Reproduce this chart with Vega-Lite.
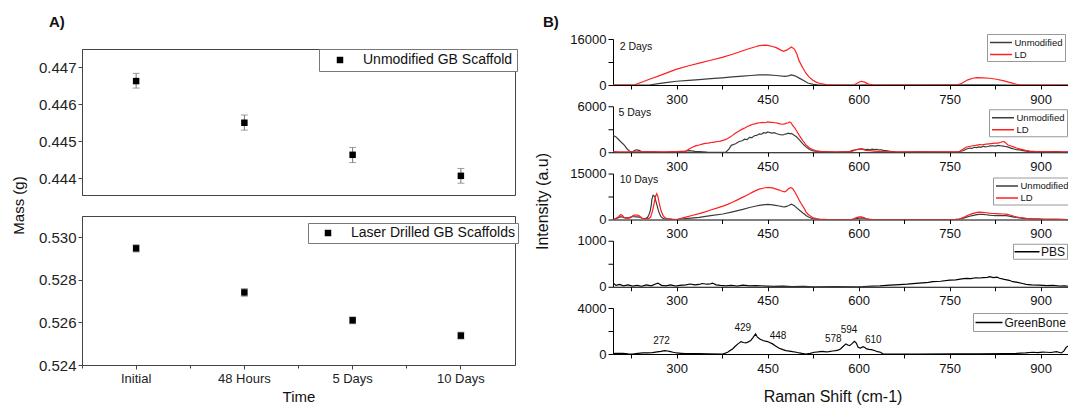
{
"$schema": "https://vega.github.io/schema/vega-lite/v6.json",
"background": "white",
"padding": {"left": 10, "top": 14, "right": 0, "bottom": 0},
"config": {
  "font": "Liberation Sans",
  "view": {"stroke": null},
  "axis": {"labelFont": "Liberation Sans", "titleFont": "Liberation Sans", "titleFontWeight": "normal", "grid": false, "labelColor": "#111", "titleColor": "#111", "domainColor": "#111", "tickColor": "#111", "labelOverlap": false, "labelFlush": false},
  "legend": {"labelFont": "Liberation Sans", "titleFont": "Liberation Sans", "labelLimit": 0},
  "title": {"font": "Liberation Sans", "fontWeight": "bold", "fontSize": 15, "color": "#111", "anchor": "start", "frame": "group"},
  "text": {"font": "Liberation Sans"}
},
"columns": 2,
"align": "none",
"spacing": 15,
"resolve": {"scale": {"color": "independent", "x": "independent", "y": "independent"}},
"concat": [
{
  "title": {"text": "A)", "offset": 7, "frame": "bounds", "dx": 38},
  "bounds": "flush",
  "spacing": 9,
  "resolve": {"scale": {"color": "independent", "x": "independent", "y": "independent"}},
  "vconcat": [
  {
    "width": 433, "height": 1,
    "data": {"values": [{"Spacer": 1}]},
    "mark": {"type": "point", "opacity": 0},
    "encoding": {}
  },
  {
  "spacing": 21,
  "bounds": "flush",
  "resolve": {"scale": {"color": "independent", "x": "independent", "y": "independent"}},
  "vconcat": [
  {
    "width": 433, "height": 146,
    "view": {"stroke": "#444", "strokeWidth": 1},
    "data": {"values": [
      {"Time": "Initial", "Mass": 0.44663, "Low": 0.44644, "High": 0.44684, "Sample": "Unmodified GB Scaffold"},
      {"Time": "48 Hours", "Mass": 0.44550, "Low": 0.44530, "High": 0.44571, "Sample": "Unmodified GB Scaffold"},
      {"Time": "5 Days", "Mass": 0.44463, "Low": 0.44442, "High": 0.44483, "Sample": "Unmodified GB Scaffold"},
      {"Time": "10 Days", "Mass": 0.44406, "Low": 0.44386, "High": 0.44426, "Sample": "Unmodified GB Scaffold"}
    ]},
    "encoding": {
      "x": {"field": "Time", "type": "nominal", "sort": ["Initial", "48 Hours", "5 Days", "10 Days"], "scale": {"type": "band", "paddingInner": 0, "paddingOuter": 0}, "axis": null}
    },
    "layer": [
      {"mark": {"type": "rule", "color": "#777", "strokeWidth": 1},
       "encoding": {
         "y": {"field": "Low", "type": "quantitative", "title": "Mass (g)", "scale": {"domain": [0.44354, 0.4475], "nice": false, "zero": false},
               "axis": {"values": [0.444, 0.4445, 0.445, 0.4455, 0.446, 0.4465, 0.447],
                        "labelExpr": "abs(datum.value*1000-round(datum.value*1000))<0.01 ? format(datum.value,'.3f') : ''",
                        "tickSize": {"condition": {"test": "abs(datum.value*1000-round(datum.value*1000))<0.01", "value": 4}, "value": 2.5},
                        "labelFontSize": 15, "labelPadding": 2, "titleFontSize": 15, "titlePadding": 12, "titleY": 156,
                        "domainColor": "#444", "tickColor": "#444", "labelColor": "#222"}},
         "y2": {"field": "High"}}},
      {"mark": {"type": "tick", "color": "#777", "size": 7, "thickness": 1},
       "encoding": {"y": {"field": "Low", "type": "quantitative", "title": "Mass (g)"}}},
      {"mark": {"type": "tick", "color": "#777", "size": 7, "thickness": 1},
       "encoding": {"y": {"field": "High", "type": "quantitative", "title": "Mass (g)"}}},
      {"mark": {"type": "square", "size": 42, "opacity": 1},
       "encoding": {
         "y": {"field": "Mass", "type": "quantitative", "title": "Mass (g)"},
         "color": {"field": "Sample", "type": "nominal", "scale": {"range": ["#000000"]},
                   "legend": {"orient": "none", "legendX": 237, "legendY": 0, "title": null, "strokeColor": "#777", "fillColor": "#fff", "padding": 4, "labelFontSize": 14, "labelColor": "#111", "symbolType": "square", "symbolSize": 42, "symbolOffset": 10, "labelOffset": 16}}}}
    ]
  },
  {
    "width": 433, "height": 149,
    "view": {"stroke": "#444", "strokeWidth": 1},
    "data": {"values": [
      {"Time": "Initial", "Mass": 0.52948, "Low": 0.52931, "High": 0.52965, "Sample": "Laser Drilled GB Scaffolds"},
      {"Time": "48 Hours", "Mass": 0.52741, "Low": 0.52723, "High": 0.52759, "Sample": "Laser Drilled GB Scaffolds"},
      {"Time": "5 Days", "Mass": 0.52610, "Low": 0.52594, "High": 0.52626, "Sample": "Laser Drilled GB Scaffolds"},
      {"Time": "10 Days", "Mass": 0.52538, "Low": 0.52522, "High": 0.52554, "Sample": "Laser Drilled GB Scaffolds"}
    ]},
    "resolve": {"axis": {"x": "independent"}},
    "layer": [
      {"mark": {"type": "rule", "color": "#777", "strokeWidth": 1},
       "encoding": {
         "x": {"field": "Time", "type": "nominal", "sort": ["Initial", "48 Hours", "5 Days", "10 Days"], "scale": {"type": "band", "paddingInner": 0, "paddingOuter": 0},
               "axis": {"orient": "bottom", "bandPosition": 0.5, "labelAngle": 0, "labelFontSize": 13, "labelPadding": 3, "tickSize": 4, "title": "Time", "titleFontSize": 15, "titlePadding": 4, "domainColor": "#444", "tickColor": "#444", "labelColor": "#222"}},
         "y": {"field": "Low", "type": "quantitative", "title": null, "scale": {"domain": [0.524, 0.531], "nice": false, "zero": false},
               "axis": {"values": [0.524, 0.525, 0.526, 0.527, 0.528, 0.529, 0.530],
                        "labelExpr": "abs(datum.value*500-round(datum.value*500))<0.01 ? format(datum.value,'.3f') : ''",
                        "tickSize": {"condition": {"test": "abs(datum.value*500-round(datum.value*500))<0.01", "value": 4}, "value": 2.5},
                        "labelFontSize": 15, "labelPadding": 2, "title": null,
                        "domainColor": "#444", "tickColor": "#444", "labelColor": "#222"}},
         "y2": {"field": "High"}}},
      {"mark": {"type": "tick", "color": "#777", "size": 7, "thickness": 1},
       "encoding": {
         "x": {"field": "Time", "type": "nominal", "sort": ["Initial", "48 Hours", "5 Days", "10 Days"], "axis": null},
         "y": {"field": "Low", "type": "quantitative", "title": null}}},
      {"mark": {"type": "tick", "color": "#777", "size": 7, "thickness": 1},
       "encoding": {
         "x": {"field": "Time", "type": "nominal", "sort": ["Initial", "48 Hours", "5 Days", "10 Days"], "axis": null},
         "y": {"field": "High", "type": "quantitative", "title": null}}},
      {"mark": {"type": "square", "size": 42, "opacity": 1},
       "encoding": {
         "x": {"field": "Time", "type": "nominal", "sort": ["Initial", "48 Hours", "5 Days", "10 Days"],
               "axis": {"orient": "bottom", "bandPosition": 0, "labels": false, "domain": false, "title": null, "tickSize": 3, "tickColor": "#444"}},
         "y": {"field": "Mass", "type": "quantitative", "title": null},
         "color": {"field": "Sample", "type": "nominal", "scale": {"range": ["#000000"]},
                   "legend": {"orient": "none", "legendX": 226, "legendY": 7, "title": null, "strokeColor": "#777", "fillColor": "#fff", "padding": 3, "labelFontSize": 14, "labelColor": "#111", "symbolType": "square", "symbolSize": 42, "symbolOffset": 10, "labelOffset": 16}}}}
    ]
  }
  ]
  }
  ]
},
{
  "title": {"text": "B)", "offset": 3, "dx": -70},
  "spacing": 21.25,
  "bounds": "flush",
  "resolve": {"scale": {"color": "independent", "x": "independent", "y": "independent"}},
  "vconcat": [
  {
    "width": 455, "height": 46,
    "data": {"values": [
      {"Series":"Unmodified","Shift":195,"Intensity":0},{"Series":"Unmodified","Shift":255,"Intensity":0},{"Series":"Unmodified","Shift":270,"Intensity":500},{"Series":"Unmodified","Shift":285,"Intensity":900},{"Series":"Unmodified","Shift":300,"Intensity":1300},{"Series":"Unmodified","Shift":320,"Intensity":1600},{"Series":"Unmodified","Shift":337,"Intensity":1900},{"Series":"Unmodified","Shift":356,"Intensity":2200},{"Series":"Unmodified","Shift":375,"Intensity":2500},{"Series":"Unmodified","Shift":392,"Intensity":2800},{"Series":"Unmodified","Shift":409,"Intensity":3100},{"Series":"Unmodified","Shift":422,"Intensity":3300},{"Series":"Unmodified","Shift":436,"Intensity":3500},{"Series":"Unmodified","Shift":450,"Intensity":3500},{"Series":"Unmodified","Shift":464,"Intensity":3300},{"Series":"Unmodified","Shift":478,"Intensity":3000},{"Series":"Unmodified","Shift":484,"Intensity":3200},{"Series":"Unmodified","Shift":489,"Intensity":3500},{"Series":"Unmodified","Shift":495,"Intensity":3200},{"Series":"Unmodified","Shift":502,"Intensity":2400},{"Series":"Unmodified","Shift":510,"Intensity":1500},{"Series":"Unmodified","Shift":516,"Intensity":700},{"Series":"Unmodified","Shift":525,"Intensity":200},{"Series":"Unmodified","Shift":535,"Intensity":0},{"Series":"Unmodified","Shift":600,"Intensity":0},{"Series":"Unmodified","Shift":610,"Intensity":80},{"Series":"Unmodified","Shift":620,"Intensity":0},{"Series":"Unmodified","Shift":790,"Intensity":50},{"Series":"Unmodified","Shift":820,"Intensity":80},{"Series":"Unmodified","Shift":850,"Intensity":0},{"Series":"Unmodified","Shift":945,"Intensity":0},
      {"Series":"LD","Shift":195,"Intensity":0},{"Series":"LD","Shift":230,"Intensity":0},{"Series":"LD","Shift":255,"Intensity":2000},{"Series":"LD","Shift":275,"Intensity":3500},{"Series":"LD","Shift":300,"Intensity":5500},{"Series":"LD","Shift":320,"Intensity":6700},{"Series":"LD","Shift":337,"Intensity":7600},{"Series":"LD","Shift":356,"Intensity":8600},{"Series":"LD","Shift":375,"Intensity":9600},{"Series":"LD","Shift":392,"Intensity":10700},{"Series":"LD","Shift":409,"Intensity":11900},{"Series":"LD","Shift":420,"Intensity":12700},{"Series":"LD","Shift":430,"Intensity":13300},{"Series":"LD","Shift":436,"Intensity":13700},{"Series":"LD","Shift":445,"Intensity":13900},{"Series":"LD","Shift":450,"Intensity":13800},{"Series":"LD","Shift":458,"Intensity":13400},{"Series":"LD","Shift":464,"Intensity":13000},{"Series":"LD","Shift":470,"Intensity":12300},{"Series":"LD","Shift":476,"Intensity":11700},{"Series":"LD","Shift":482,"Intensity":12200},{"Series":"LD","Shift":489,"Intensity":13200},{"Series":"LD","Shift":494,"Intensity":12500},{"Series":"LD","Shift":498,"Intensity":10800},{"Series":"LD","Shift":502,"Intensity":8300},{"Series":"LD","Shift":508,"Intensity":5900},{"Series":"LD","Shift":513,"Intensity":4100},{"Series":"LD","Shift":518,"Intensity":2800},{"Series":"LD","Shift":524,"Intensity":1750},{"Series":"LD","Shift":530,"Intensity":1000},{"Series":"LD","Shift":535,"Intensity":600},{"Series":"LD","Shift":546,"Intensity":120},{"Series":"LD","Shift":560,"Intensity":0},{"Series":"LD","Shift":592,"Intensity":0},{"Series":"LD","Shift":598,"Intensity":700},{"Series":"LD","Shift":604,"Intensity":1300},{"Series":"LD","Shift":610,"Intensity":1000},{"Series":"LD","Shift":616,"Intensity":300},{"Series":"LD","Shift":625,"Intensity":0},{"Series":"LD","Shift":762,"Intensity":0},{"Series":"LD","Shift":770,"Intensity":600},{"Series":"LD","Shift":780,"Intensity":1800},{"Series":"LD","Shift":788,"Intensity":2350},{"Series":"LD","Shift":794,"Intensity":2550},{"Series":"LD","Shift":805,"Intensity":2500},{"Series":"LD","Shift":816,"Intensity":2350},{"Series":"LD","Shift":827,"Intensity":2000},{"Series":"LD","Shift":838,"Intensity":1500},{"Series":"LD","Shift":850,"Intensity":800},{"Series":"LD","Shift":860,"Intensity":250},{"Series":"LD","Shift":870,"Intensity":0},{"Series":"LD","Shift":945,"Intensity":0}
    ]},
    "encoding": {
      "x": {"field": "Shift", "type": "quantitative", "scale": {"domain": [195, 945], "nice": false, "zero": false},
            "axis": {"values": [225,300,375,450,525,600,675,750,825,900], "format": "d", "labelExpr": "datum.value % 150 === 0 ? datum.label : ''", "title": null, "tickSize": 4, "labelPadding": 4, "labelFontSize": 13, "domainColor": "#000", "tickColor": "#000"}},
      "y": {"field": "Intensity", "type": "quantitative", "scale": {"domain": [0, 16000], "nice": false},
            "axis": {"values": [0, 8000, 16000], "format": "d", "labelExpr": "datum.value === 0 || datum.value === 16000 ? datum.label : ''", "title": null, "tickSize": 5, "labelPadding": 2, "labelFontSize": 13, "domainColor": "#000", "tickColor": "#000"}}
    },
    "layer": [
      {"mark": {"type": "line", "strokeWidth": 1.2, "clip": true},
       "encoding": {"color": {"field": "Series", "type": "nominal", "scale": {"domain": ["Unmodified", "LD"], "range": ["#3c3c3c", "#ff1f1f"]},
          "legend": {"orient": "none", "legendX": 374, "legendY": -5, "title": null, "strokeColor": "#999", "fillColor": "#fff", "padding": 2, "symbolType": "M-2,0L2,0", "symbolSize": 121, "symbolStrokeWidth": 1.5, "symbolOffset": 5.5, "labelOffset": 7, "labelFontSize": 9.5, "labelColor": "#111", "rowPadding": 1}}}},
      {"data": {"values": [{"Label": "2 Days", "Shift": 206, "Intensity": 13300}]},
       "mark": {"type": "text", "align": "left", "baseline": "middle", "fontSize": 10.5, "color": "#111"},
       "encoding": {"text": {"field": "Label"}}}
    ]
  },
  {
    "width": 455, "height": 46,
    "data": {"values": [
      {"Series":"Unmodified","Shift":195,"Intensity":2200},{"Series":"Unmodified","Shift":200,"Intensity":2000},{"Series":"Unmodified","Shift":205,"Intensity":1600},{"Series":"Unmodified","Shift":210,"Intensity":1200},{"Series":"Unmodified","Shift":214,"Intensity":900},{"Series":"Unmodified","Shift":218,"Intensity":450},{"Series":"Unmodified","Shift":222,"Intensity":150},{"Series":"Unmodified","Shift":227,"Intensity":0},{"Series":"Unmodified","Shift":231,"Intensity":250},{"Series":"Unmodified","Shift":234,"Intensity":320},{"Series":"Unmodified","Shift":238,"Intensity":250},{"Series":"Unmodified","Shift":244,"Intensity":0},{"Series":"Unmodified","Shift":260,"Intensity":60},{"Series":"Unmodified","Shift":280,"Intensity":0},{"Series":"Unmodified","Shift":300,"Intensity":80},{"Series":"Unmodified","Shift":315,"Intensity":150},{"Series":"Unmodified","Shift":321,"Intensity":200},{"Series":"Unmodified","Shift":330,"Intensity":120},{"Series":"Unmodified","Shift":337,"Intensity":100},{"Series":"Unmodified","Shift":350,"Intensity":30},{"Series":"Unmodified","Shift":370,"Intensity":0},{"Series":"Unmodified","Shift":381,"Intensity":0},{"Series":"Unmodified","Shift":386,"Intensity":400},{"Series":"Unmodified","Shift":390,"Intensity":900},{"Series":"Unmodified","Shift":397,"Intensity":1100},{"Series":"Unmodified","Shift":403,"Intensity":1400},{"Series":"Unmodified","Shift":408,"Intensity":1500},{"Series":"Unmodified","Shift":412,"Intensity":1700},{"Series":"Unmodified","Shift":416,"Intensity":1650},{"Series":"Unmodified","Shift":420,"Intensity":1950},{"Series":"Unmodified","Shift":424,"Intensity":1900},{"Series":"Unmodified","Shift":428,"Intensity":2150},{"Series":"Unmodified","Shift":432,"Intensity":2200},{"Series":"Unmodified","Shift":436,"Intensity":2400},{"Series":"Unmodified","Shift":440,"Intensity":2350},{"Series":"Unmodified","Shift":443,"Intensity":2550},{"Series":"Unmodified","Shift":447,"Intensity":2500},{"Series":"Unmodified","Shift":450,"Intensity":2650},{"Series":"Unmodified","Shift":454,"Intensity":2550},{"Series":"Unmodified","Shift":457,"Intensity":2500},{"Series":"Unmodified","Shift":461,"Intensity":2550},{"Series":"Unmodified","Shift":464,"Intensity":2450},{"Series":"Unmodified","Shift":468,"Intensity":2350},{"Series":"Unmodified","Shift":471,"Intensity":2300},{"Series":"Unmodified","Shift":475,"Intensity":2250},{"Series":"Unmodified","Shift":478,"Intensity":2350},{"Series":"Unmodified","Shift":481,"Intensity":2400},{"Series":"Unmodified","Shift":484,"Intensity":2500},{"Series":"Unmodified","Shift":487,"Intensity":2400},{"Series":"Unmodified","Shift":489,"Intensity":2450},{"Series":"Unmodified","Shift":492,"Intensity":2300},{"Series":"Unmodified","Shift":494,"Intensity":2200},{"Series":"Unmodified","Shift":497,"Intensity":2050},{"Series":"Unmodified","Shift":500,"Intensity":1800},{"Series":"Unmodified","Shift":504,"Intensity":1450},{"Series":"Unmodified","Shift":508,"Intensity":1100},{"Series":"Unmodified","Shift":513,"Intensity":700},{"Series":"Unmodified","Shift":519,"Intensity":350},{"Series":"Unmodified","Shift":524,"Intensity":220},{"Series":"Unmodified","Shift":528,"Intensity":150},{"Series":"Unmodified","Shift":535,"Intensity":120},{"Series":"Unmodified","Shift":540,"Intensity":100},{"Series":"Unmodified","Shift":550,"Intensity":60},{"Series":"Unmodified","Shift":562,"Intensity":0},{"Series":"Unmodified","Shift":575,"Intensity":50},{"Series":"Unmodified","Shift":585,"Intensity":100},{"Series":"Unmodified","Shift":590,"Intensity":250},{"Series":"Unmodified","Shift":596,"Intensity":330},{"Series":"Unmodified","Shift":600,"Intensity":380},{"Series":"Unmodified","Shift":604,"Intensity":450},{"Series":"Unmodified","Shift":607,"Intensity":420},{"Series":"Unmodified","Shift":611,"Intensity":350},{"Series":"Unmodified","Shift":615,"Intensity":380},{"Series":"Unmodified","Shift":619,"Intensity":330},{"Series":"Unmodified","Shift":622,"Intensity":400},{"Series":"Unmodified","Shift":626,"Intensity":350},{"Series":"Unmodified","Shift":629,"Intensity":380},{"Series":"Unmodified","Shift":633,"Intensity":300},{"Series":"Unmodified","Shift":637,"Intensity":300},{"Series":"Unmodified","Shift":641,"Intensity":250},{"Series":"Unmodified","Shift":645,"Intensity":230},{"Series":"Unmodified","Shift":650,"Intensity":150},{"Series":"Unmodified","Shift":655,"Intensity":100},{"Series":"Unmodified","Shift":665,"Intensity":0},{"Series":"Unmodified","Shift":700,"Intensity":40},{"Series":"Unmodified","Shift":730,"Intensity":20},{"Series":"Unmodified","Shift":760,"Intensity":30},{"Series":"Unmodified","Shift":766,"Intensity":100},{"Series":"Unmodified","Shift":772,"Intensity":200},{"Series":"Unmodified","Shift":777,"Intensity":400},{"Series":"Unmodified","Shift":783,"Intensity":550},{"Series":"Unmodified","Shift":787,"Intensity":500},{"Series":"Unmodified","Shift":790,"Intensity":650},{"Series":"Unmodified","Shift":794,"Intensity":600},{"Series":"Unmodified","Shift":798,"Intensity":700},{"Series":"Unmodified","Shift":802,"Intensity":650},{"Series":"Unmodified","Shift":805,"Intensity":800},{"Series":"Unmodified","Shift":809,"Intensity":700},{"Series":"Unmodified","Shift":813,"Intensity":750},{"Series":"Unmodified","Shift":817,"Intensity":820},{"Series":"Unmodified","Shift":821,"Intensity":850},{"Series":"Unmodified","Shift":825,"Intensity":800},{"Series":"Unmodified","Shift":830,"Intensity":900},{"Series":"Unmodified","Shift":834,"Intensity":850},{"Series":"Unmodified","Shift":838,"Intensity":800},{"Series":"Unmodified","Shift":842,"Intensity":750},{"Series":"Unmodified","Shift":845,"Intensity":700},{"Series":"Unmodified","Shift":849,"Intensity":600},{"Series":"Unmodified","Shift":852,"Intensity":500},{"Series":"Unmodified","Shift":856,"Intensity":420},{"Series":"Unmodified","Shift":860,"Intensity":350},{"Series":"Unmodified","Shift":865,"Intensity":300},{"Series":"Unmodified","Shift":871,"Intensity":220},{"Series":"Unmodified","Shift":876,"Intensity":150},{"Series":"Unmodified","Shift":880,"Intensity":120},{"Series":"Unmodified","Shift":887,"Intensity":80},{"Series":"Unmodified","Shift":893,"Intensity":60},{"Series":"Unmodified","Shift":900,"Intensity":100},{"Series":"Unmodified","Shift":905,"Intensity":60},{"Series":"Unmodified","Shift":910,"Intensity":50},{"Series":"Unmodified","Shift":918,"Intensity":70},{"Series":"Unmodified","Shift":925,"Intensity":80},{"Series":"Unmodified","Shift":935,"Intensity":40},{"Series":"Unmodified","Shift":945,"Intensity":30},
      {"Series":"LD","Shift":195,"Intensity":100},{"Series":"LD","Shift":205,"Intensity":60},{"Series":"LD","Shift":215,"Intensity":40},{"Series":"LD","Shift":230,"Intensity":60},{"Series":"LD","Shift":250,"Intensity":80},{"Series":"LD","Shift":265,"Intensity":40},{"Series":"LD","Shift":280,"Intensity":50},{"Series":"LD","Shift":300,"Intensity":80},{"Series":"LD","Shift":310,"Intensity":60},{"Series":"LD","Shift":315,"Intensity":150},{"Series":"LD","Shift":318,"Intensity":300},{"Series":"LD","Shift":321,"Intensity":450},{"Series":"LD","Shift":326,"Intensity":650},{"Series":"LD","Shift":330,"Intensity":800},{"Series":"LD","Shift":334,"Intensity":900},{"Series":"LD","Shift":337,"Intensity":950},{"Series":"LD","Shift":342,"Intensity":1050},{"Series":"LD","Shift":347,"Intensity":1150},{"Series":"LD","Shift":352,"Intensity":1200},{"Series":"LD","Shift":359,"Intensity":1300},{"Series":"LD","Shift":364,"Intensity":1350},{"Series":"LD","Shift":368,"Intensity":1400},{"Series":"LD","Shift":372,"Intensity":1450},{"Series":"LD","Shift":376,"Intensity":1550},{"Series":"LD","Shift":380,"Intensity":1650},{"Series":"LD","Shift":384,"Intensity":1800},{"Series":"LD","Shift":388,"Intensity":2000},{"Series":"LD","Shift":392,"Intensity":2200},{"Series":"LD","Shift":396,"Intensity":2450},{"Series":"LD","Shift":400,"Intensity":2650},{"Series":"LD","Shift":404,"Intensity":2850},{"Series":"LD","Shift":409,"Intensity":3050},{"Series":"LD","Shift":413,"Intensity":3200},{"Series":"LD","Shift":417,"Intensity":3400},{"Series":"LD","Shift":421,"Intensity":3500},{"Series":"LD","Shift":425,"Intensity":3650},{"Series":"LD","Shift":429,"Intensity":3700},{"Series":"LD","Shift":433,"Intensity":3800},{"Series":"LD","Shift":437,"Intensity":3850},{"Series":"LD","Shift":442,"Intensity":3900},{"Series":"LD","Shift":446,"Intensity":3850},{"Series":"LD","Shift":450,"Intensity":3950},{"Series":"LD","Shift":454,"Intensity":3900},{"Series":"LD","Shift":458,"Intensity":3900},{"Series":"LD","Shift":462,"Intensity":3850},{"Series":"LD","Shift":466,"Intensity":3800},{"Series":"LD","Shift":470,"Intensity":3700},{"Series":"LD","Shift":475,"Intensity":3650},{"Series":"LD","Shift":478,"Intensity":3700},{"Series":"LD","Shift":481,"Intensity":3800},{"Series":"LD","Shift":484,"Intensity":3850},{"Series":"LD","Shift":486,"Intensity":3950},{"Series":"LD","Shift":489,"Intensity":3800},{"Series":"LD","Shift":491,"Intensity":3500},{"Series":"LD","Shift":494,"Intensity":3250},{"Series":"LD","Shift":496,"Intensity":3000},{"Series":"LD","Shift":499,"Intensity":2600},{"Series":"LD","Shift":502,"Intensity":2200},{"Series":"LD","Shift":505,"Intensity":1850},{"Series":"LD","Shift":508,"Intensity":1500},{"Series":"LD","Shift":511,"Intensity":1200},{"Series":"LD","Shift":513,"Intensity":950},{"Series":"LD","Shift":516,"Intensity":750},{"Series":"LD","Shift":519,"Intensity":550},{"Series":"LD","Shift":524,"Intensity":350},{"Series":"LD","Shift":530,"Intensity":200},{"Series":"LD","Shift":535,"Intensity":120},{"Series":"LD","Shift":545,"Intensity":80},{"Series":"LD","Shift":560,"Intensity":50},{"Series":"LD","Shift":575,"Intensity":40},{"Series":"LD","Shift":585,"Intensity":50},{"Series":"LD","Shift":590,"Intensity":150},{"Series":"LD","Shift":596,"Intensity":350},{"Series":"LD","Shift":600,"Intensity":420},{"Series":"LD","Shift":604,"Intensity":450},{"Series":"LD","Shift":608,"Intensity":350},{"Series":"LD","Shift":612,"Intensity":250},{"Series":"LD","Shift":618,"Intensity":200},{"Series":"LD","Shift":625,"Intensity":150},{"Series":"LD","Shift":632,"Intensity":100},{"Series":"LD","Shift":640,"Intensity":80},{"Series":"LD","Shift":660,"Intensity":60},{"Series":"LD","Shift":700,"Intensity":50},{"Series":"LD","Shift":730,"Intensity":40},{"Series":"LD","Shift":750,"Intensity":60},{"Series":"LD","Shift":760,"Intensity":60},{"Series":"LD","Shift":766,"Intensity":100},{"Series":"LD","Shift":769,"Intensity":250},{"Series":"LD","Shift":772,"Intensity":400},{"Series":"LD","Shift":775,"Intensity":550},{"Series":"LD","Shift":777,"Intensity":650},{"Series":"LD","Shift":782,"Intensity":750},{"Series":"LD","Shift":788,"Intensity":850},{"Series":"LD","Shift":793,"Intensity":900},{"Series":"LD","Shift":799,"Intensity":1000},{"Series":"LD","Shift":804,"Intensity":980},{"Series":"LD","Shift":810,"Intensity":1050},{"Series":"LD","Shift":815,"Intensity":1100},{"Series":"LD","Shift":821,"Intensity":1150},{"Series":"LD","Shift":826,"Intensity":1180},{"Series":"LD","Shift":830,"Intensity":1200},{"Series":"LD","Shift":834,"Intensity":1300},{"Series":"LD","Shift":838,"Intensity":1400},{"Series":"LD","Shift":840,"Intensity":1350},{"Series":"LD","Shift":842,"Intensity":1250},{"Series":"LD","Shift":846,"Intensity":950},{"Series":"LD","Shift":850,"Intensity":850},{"Series":"LD","Shift":855,"Intensity":700},{"Series":"LD","Shift":860,"Intensity":550},{"Series":"LD","Shift":865,"Intensity":450},{"Series":"LD","Shift":870,"Intensity":350},{"Series":"LD","Shift":875,"Intensity":250},{"Series":"LD","Shift":882,"Intensity":150},{"Series":"LD","Shift":890,"Intensity":120},{"Series":"LD","Shift":900,"Intensity":100},{"Series":"LD","Shift":908,"Intensity":80},{"Series":"LD","Shift":915,"Intensity":90},{"Series":"LD","Shift":922,"Intensity":60},{"Series":"LD","Shift":930,"Intensity":60},{"Series":"LD","Shift":938,"Intensity":50},{"Series":"LD","Shift":945,"Intensity":50}
    ]},
    "encoding": {
      "x": {"field": "Shift", "type": "quantitative", "scale": {"domain": [195, 945], "nice": false, "zero": false},
            "axis": {"values": [225,300,375,450,525,600,675,750,825,900], "format": "d", "labelExpr": "datum.value % 150 === 0 ? datum.label : ''", "title": null, "tickSize": 4, "labelPadding": 4, "labelFontSize": 13, "domainColor": "#000", "tickColor": "#000"}},
      "y": {"field": "Intensity", "type": "quantitative", "scale": {"domain": [0, 6000], "nice": false},
            "axis": {"values": [0, 3000, 6000], "format": "d", "labelExpr": "datum.value === 0 || datum.value === 6000 ? datum.label : ''", "title": null, "tickSize": 5, "labelPadding": 2, "labelFontSize": 13, "domainColor": "#000", "tickColor": "#000"}}
    },
    "layer": [
      {"mark": {"type": "line", "strokeWidth": 1.2, "clip": true},
       "encoding": {"color": {"field": "Series", "type": "nominal", "scale": {"domain": ["Unmodified", "LD"], "range": ["#3c3c3c", "#ff1f1f"]},
          "legend": {"orient": "none", "legendX": 376, "legendY": 3, "title": null, "strokeColor": "#999", "fillColor": "#fff", "padding": 2, "symbolType": "M-2,0L2,0", "symbolSize": 121, "symbolStrokeWidth": 1.5, "symbolOffset": 5.5, "labelOffset": 7, "labelFontSize": 9.5, "labelColor": "#111", "rowPadding": 1}}}},
      {"data": {"values": [{"Label": "5 Days", "Shift": 204, "Intensity": 5080}]},
       "mark": {"type": "text", "align": "left", "baseline": "middle", "fontSize": 10.5, "color": "#111"},
       "encoding": {"text": {"field": "Label"}}}
    ]
  },
  {
    "width": 455, "height": 46,
    "data": {"values": [
      {"Series":"Unmodified","Shift":195,"Intensity":0},{"Series":"Unmodified","Shift":199,"Intensity":200},{"Series":"Unmodified","Shift":203,"Intensity":500},{"Series":"Unmodified","Shift":206,"Intensity":800},{"Series":"Unmodified","Shift":208,"Intensity":900},{"Series":"Unmodified","Shift":211,"Intensity":750},{"Series":"Unmodified","Shift":213,"Intensity":600},{"Series":"Unmodified","Shift":216,"Intensity":550},{"Series":"Unmodified","Shift":218,"Intensity":550},{"Series":"Unmodified","Shift":221,"Intensity":650},{"Series":"Unmodified","Shift":224,"Intensity":800},{"Series":"Unmodified","Shift":227,"Intensity":900},{"Series":"Unmodified","Shift":230,"Intensity":900},{"Series":"Unmodified","Shift":233,"Intensity":880},{"Series":"Unmodified","Shift":236,"Intensity":850},{"Series":"Unmodified","Shift":240,"Intensity":650},{"Series":"Unmodified","Shift":243,"Intensity":400},{"Series":"Unmodified","Shift":247,"Intensity":300},{"Series":"Unmodified","Shift":250,"Intensity":450},{"Series":"Unmodified","Shift":252,"Intensity":700},{"Series":"Unmodified","Shift":254,"Intensity":1500},{"Series":"Unmodified","Shift":256,"Intensity":2500},{"Series":"Unmodified","Shift":258,"Intensity":4500},{"Series":"Unmodified","Shift":259,"Intensity":6500},{"Series":"Unmodified","Shift":261,"Intensity":7900},{"Series":"Unmodified","Shift":262,"Intensity":7800},{"Series":"Unmodified","Shift":264,"Intensity":7400},{"Series":"Unmodified","Shift":265,"Intensity":6500},{"Series":"Unmodified","Shift":267,"Intensity":5000},{"Series":"Unmodified","Shift":270,"Intensity":2800},{"Series":"Unmodified","Shift":272,"Intensity":1800},{"Series":"Unmodified","Shift":274,"Intensity":900},{"Series":"Unmodified","Shift":277,"Intensity":400},{"Series":"Unmodified","Shift":280,"Intensity":200},{"Series":"Unmodified","Shift":290,"Intensity":50},{"Series":"Unmodified","Shift":300,"Intensity":0},{"Series":"Unmodified","Shift":315,"Intensity":300},{"Series":"Unmodified","Shift":337,"Intensity":700},{"Series":"Unmodified","Shift":356,"Intensity":1250},{"Series":"Unmodified","Shift":376,"Intensity":1800},{"Series":"Unmodified","Shift":392,"Intensity":2500},{"Series":"Unmodified","Shift":409,"Intensity":3300},{"Series":"Unmodified","Shift":420,"Intensity":3900},{"Series":"Unmodified","Shift":431,"Intensity":4400},{"Series":"Unmodified","Shift":436,"Intensity":4600},{"Series":"Unmodified","Shift":442,"Intensity":4750},{"Series":"Unmodified","Shift":446,"Intensity":4850},{"Series":"Unmodified","Shift":450,"Intensity":4900},{"Series":"Unmodified","Shift":454,"Intensity":4850},{"Series":"Unmodified","Shift":458,"Intensity":4750},{"Series":"Unmodified","Shift":463,"Intensity":4600},{"Series":"Unmodified","Shift":469,"Intensity":4400},{"Series":"Unmodified","Shift":474,"Intensity":4200},{"Series":"Unmodified","Shift":478,"Intensity":4100},{"Series":"Unmodified","Shift":481,"Intensity":4300},{"Series":"Unmodified","Shift":484,"Intensity":4500},{"Series":"Unmodified","Shift":487,"Intensity":4800},{"Series":"Unmodified","Shift":489,"Intensity":5000},{"Series":"Unmodified","Shift":491,"Intensity":4800},{"Series":"Unmodified","Shift":494,"Intensity":4500},{"Series":"Unmodified","Shift":498,"Intensity":3800},{"Series":"Unmodified","Shift":502,"Intensity":3100},{"Series":"Unmodified","Shift":505,"Intensity":2600},{"Series":"Unmodified","Shift":508,"Intensity":2100},{"Series":"Unmodified","Shift":511,"Intensity":1700},{"Series":"Unmodified","Shift":513,"Intensity":1300},{"Series":"Unmodified","Shift":516,"Intensity":950},{"Series":"Unmodified","Shift":519,"Intensity":650},{"Series":"Unmodified","Shift":524,"Intensity":300},{"Series":"Unmodified","Shift":530,"Intensity":120},{"Series":"Unmodified","Shift":535,"Intensity":50},{"Series":"Unmodified","Shift":545,"Intensity":0},{"Series":"Unmodified","Shift":590,"Intensity":0},{"Series":"Unmodified","Shift":596,"Intensity":300},{"Series":"Unmodified","Shift":601,"Intensity":450},{"Series":"Unmodified","Shift":604,"Intensity":550},{"Series":"Unmodified","Shift":608,"Intensity":450},{"Series":"Unmodified","Shift":612,"Intensity":250},{"Series":"Unmodified","Shift":616,"Intensity":80},{"Series":"Unmodified","Shift":620,"Intensity":0},{"Series":"Unmodified","Shift":760,"Intensity":30},{"Series":"Unmodified","Shift":766,"Intensity":100},{"Series":"Unmodified","Shift":770,"Intensity":300},{"Series":"Unmodified","Shift":775,"Intensity":600},{"Series":"Unmodified","Shift":779,"Intensity":850},{"Series":"Unmodified","Shift":783,"Intensity":1050},{"Series":"Unmodified","Shift":787,"Intensity":1250},{"Series":"Unmodified","Shift":791,"Intensity":1450},{"Series":"Unmodified","Shift":795,"Intensity":1600},{"Series":"Unmodified","Shift":799,"Intensity":1700},{"Series":"Unmodified","Shift":804,"Intensity":1650},{"Series":"Unmodified","Shift":810,"Intensity":1550},{"Series":"Unmodified","Shift":815,"Intensity":1400},{"Series":"Unmodified","Shift":821,"Intensity":1300},{"Series":"Unmodified","Shift":826,"Intensity":1250},{"Series":"Unmodified","Shift":832,"Intensity":1250},{"Series":"Unmodified","Shift":837,"Intensity":1250},{"Series":"Unmodified","Shift":843,"Intensity":1250},{"Series":"Unmodified","Shift":848,"Intensity":1100},{"Series":"Unmodified","Shift":852,"Intensity":950},{"Series":"Unmodified","Shift":856,"Intensity":800},{"Series":"Unmodified","Shift":860,"Intensity":650},{"Series":"Unmodified","Shift":865,"Intensity":500},{"Series":"Unmodified","Shift":871,"Intensity":350},{"Series":"Unmodified","Shift":876,"Intensity":270},{"Series":"Unmodified","Shift":882,"Intensity":200},{"Series":"Unmodified","Shift":888,"Intensity":150},{"Series":"Unmodified","Shift":895,"Intensity":100},{"Series":"Unmodified","Shift":902,"Intensity":70},{"Series":"Unmodified","Shift":910,"Intensity":50},{"Series":"Unmodified","Shift":925,"Intensity":20},{"Series":"Unmodified","Shift":945,"Intensity":0},
      {"Series":"LD","Shift":195,"Intensity":0},{"Series":"LD","Shift":199,"Intensity":300},{"Series":"LD","Shift":203,"Intensity":700},{"Series":"LD","Shift":206,"Intensity":1300},{"Series":"LD","Shift":208,"Intensity":1600},{"Series":"LD","Shift":211,"Intensity":1200},{"Series":"LD","Shift":213,"Intensity":700},{"Series":"LD","Shift":216,"Intensity":400},{"Series":"LD","Shift":220,"Intensity":350},{"Series":"LD","Shift":224,"Intensity":600},{"Series":"LD","Shift":227,"Intensity":1100},{"Series":"LD","Shift":230,"Intensity":1400},{"Series":"LD","Shift":234,"Intensity":1450},{"Series":"LD","Shift":237,"Intensity":1400},{"Series":"LD","Shift":240,"Intensity":900},{"Series":"LD","Shift":243,"Intensity":400},{"Series":"LD","Shift":247,"Intensity":250},{"Series":"LD","Shift":250,"Intensity":200},{"Series":"LD","Shift":254,"Intensity":350},{"Series":"LD","Shift":257,"Intensity":800},{"Series":"LD","Shift":259,"Intensity":2000},{"Series":"LD","Shift":261,"Intensity":3500},{"Series":"LD","Shift":263,"Intensity":5500},{"Series":"LD","Shift":265,"Intensity":7500},{"Series":"LD","Shift":267,"Intensity":8400},{"Series":"LD","Shift":269,"Intensity":7500},{"Series":"LD","Shift":271,"Intensity":5500},{"Series":"LD","Shift":274,"Intensity":3000},{"Series":"LD","Shift":277,"Intensity":1500},{"Series":"LD","Shift":279,"Intensity":900},{"Series":"LD","Shift":282,"Intensity":500},{"Series":"LD","Shift":285,"Intensity":300},{"Series":"LD","Shift":293,"Intensity":100},{"Series":"LD","Shift":300,"Intensity":0},{"Series":"LD","Shift":307,"Intensity":400},{"Series":"LD","Shift":315,"Intensity":800},{"Series":"LD","Shift":325,"Intensity":1300},{"Series":"LD","Shift":337,"Intensity":1900},{"Series":"LD","Shift":347,"Intensity":2500},{"Series":"LD","Shift":356,"Intensity":3100},{"Series":"LD","Shift":366,"Intensity":3700},{"Series":"LD","Shift":376,"Intensity":4350},{"Series":"LD","Shift":384,"Intensity":4950},{"Series":"LD","Shift":392,"Intensity":5600},{"Series":"LD","Shift":400,"Intensity":6400},{"Series":"LD","Shift":409,"Intensity":7300},{"Series":"LD","Shift":415,"Intensity":7850},{"Series":"LD","Shift":420,"Intensity":8400},{"Series":"LD","Shift":426,"Intensity":9000},{"Series":"LD","Shift":431,"Intensity":9500},{"Series":"LD","Shift":436,"Intensity":9900},{"Series":"LD","Shift":442,"Intensity":10200},{"Series":"LD","Shift":446,"Intensity":10350},{"Series":"LD","Shift":450,"Intensity":10400},{"Series":"LD","Shift":454,"Intensity":10400},{"Series":"LD","Shift":458,"Intensity":10300},{"Series":"LD","Shift":463,"Intensity":10000},{"Series":"LD","Shift":469,"Intensity":9600},{"Series":"LD","Shift":474,"Intensity":9200},{"Series":"LD","Shift":478,"Intensity":9000},{"Series":"LD","Shift":481,"Intensity":9400},{"Series":"LD","Shift":484,"Intensity":10000},{"Series":"LD","Shift":488,"Intensity":10400},{"Series":"LD","Shift":490,"Intensity":10300},{"Series":"LD","Shift":492,"Intensity":9800},{"Series":"LD","Shift":495,"Intensity":8900},{"Series":"LD","Shift":498,"Intensity":7800},{"Series":"LD","Shift":502,"Intensity":6300},{"Series":"LD","Shift":505,"Intensity":5200},{"Series":"LD","Shift":508,"Intensity":4300},{"Series":"LD","Shift":511,"Intensity":3300},{"Series":"LD","Shift":513,"Intensity":2500},{"Series":"LD","Shift":516,"Intensity":1800},{"Series":"LD","Shift":519,"Intensity":1300},{"Series":"LD","Shift":524,"Intensity":650},{"Series":"LD","Shift":530,"Intensity":300},{"Series":"LD","Shift":535,"Intensity":150},{"Series":"LD","Shift":550,"Intensity":0},{"Series":"LD","Shift":588,"Intensity":0},{"Series":"LD","Shift":593,"Intensity":300},{"Series":"LD","Shift":596,"Intensity":600},{"Series":"LD","Shift":601,"Intensity":870},{"Series":"LD","Shift":604,"Intensity":850},{"Series":"LD","Shift":607,"Intensity":700},{"Series":"LD","Shift":610,"Intensity":500},{"Series":"LD","Shift":612,"Intensity":330},{"Series":"LD","Shift":617,"Intensity":100},{"Series":"LD","Shift":623,"Intensity":0},{"Series":"LD","Shift":760,"Intensity":50},{"Series":"LD","Shift":766,"Intensity":150},{"Series":"LD","Shift":770,"Intensity":450},{"Series":"LD","Shift":775,"Intensity":900},{"Series":"LD","Shift":779,"Intensity":1300},{"Series":"LD","Shift":783,"Intensity":1600},{"Series":"LD","Shift":787,"Intensity":1900},{"Series":"LD","Shift":791,"Intensity":2100},{"Series":"LD","Shift":795,"Intensity":2300},{"Series":"LD","Shift":799,"Intensity":2400},{"Series":"LD","Shift":804,"Intensity":2350},{"Series":"LD","Shift":810,"Intensity":2200},{"Series":"LD","Shift":815,"Intensity":2050},{"Series":"LD","Shift":821,"Intensity":1950},{"Series":"LD","Shift":826,"Intensity":1900},{"Series":"LD","Shift":832,"Intensity":1850},{"Series":"LD","Shift":837,"Intensity":1800},{"Series":"LD","Shift":843,"Intensity":1750},{"Series":"LD","Shift":848,"Intensity":1550},{"Series":"LD","Shift":852,"Intensity":1300},{"Series":"LD","Shift":856,"Intensity":1050},{"Series":"LD","Shift":860,"Intensity":850},{"Series":"LD","Shift":865,"Intensity":650},{"Series":"LD","Shift":871,"Intensity":500},{"Series":"LD","Shift":876,"Intensity":380},{"Series":"LD","Shift":882,"Intensity":300},{"Series":"LD","Shift":888,"Intensity":230},{"Series":"LD","Shift":895,"Intensity":180},{"Series":"LD","Shift":904,"Intensity":100},{"Series":"LD","Shift":912,"Intensity":80},{"Series":"LD","Shift":920,"Intensity":50},{"Series":"LD","Shift":930,"Intensity":30},{"Series":"LD","Shift":945,"Intensity":0}
    ]},
    "encoding": {
      "x": {"field": "Shift", "type": "quantitative", "scale": {"domain": [195, 945], "nice": false, "zero": false},
            "axis": {"values": [225,300,375,450,525,600,675,750,825,900], "format": "d", "labelExpr": "datum.value % 150 === 0 ? datum.label : ''", "title": null, "tickSize": 4, "labelPadding": 4, "labelFontSize": 13, "domainColor": "#000", "tickColor": "#000"}},
      "y": {"field": "Intensity", "type": "quantitative", "scale": {"domain": [0, 15000], "nice": false},
            "axis": {"values": [0, 7500, 15000], "format": "d", "labelExpr": "datum.value === 0 || datum.value === 15000 ? datum.label : ''", "title": "Intensity (a.u)", "titleFontSize": 16, "titlePadding": 19, "titleY": 27.5, "tickSize": 5, "labelPadding": 2, "labelFontSize": 13, "domainColor": "#000", "tickColor": "#000"}}
    },
    "layer": [
      {"mark": {"type": "line", "strokeWidth": 1.2, "clip": true},
       "encoding": {"color": {"field": "Series", "type": "nominal", "scale": {"domain": ["Unmodified", "LD"], "range": ["#3c3c3c", "#ff1f1f"]},
          "legend": {"orient": "none", "legendX": 380, "legendY": 4, "title": null, "strokeColor": "#999", "fillColor": "#fff", "padding": 2, "symbolType": "M-2,0L2,0", "symbolSize": 121, "symbolStrokeWidth": 1.5, "symbolOffset": 5.5, "labelOffset": 7, "labelFontSize": 9.5, "labelColor": "#111", "rowPadding": 1}}}},
      {"data": {"values": [{"Label": "10 Days", "Shift": 206, "Intensity": 12950}]},
       "mark": {"type": "text", "align": "left", "baseline": "middle", "fontSize": 10.5, "color": "#111"},
       "encoding": {"text": {"field": "Label"}}}
    ]
  },
  {
    "width": 455, "height": 46,
    "data": {"values": [
      {"Series":"PBS","Shift":195,"Intensity":80},{"Series":"PBS","Shift":200,"Intensity":30},{"Series":"PBS","Shift":206,"Intensity":50},{"Series":"PBS","Shift":212,"Intensity":20},{"Series":"PBS","Shift":220,"Intensity":40},{"Series":"PBS","Shift":227,"Intensity":15},{"Series":"PBS","Shift":235,"Intensity":30},{"Series":"PBS","Shift":242,"Intensity":10},{"Series":"PBS","Shift":250,"Intensity":40},{"Series":"PBS","Shift":258,"Intensity":20},{"Series":"PBS","Shift":265,"Intensity":60},{"Series":"PBS","Shift":269,"Intensity":80},{"Series":"PBS","Shift":275,"Intensity":30},{"Series":"PBS","Shift":282,"Intensity":20},{"Series":"PBS","Shift":290,"Intensity":40},{"Series":"PBS","Shift":298,"Intensity":15},{"Series":"PBS","Shift":305,"Intensity":30},{"Series":"PBS","Shift":315,"Intensity":40},{"Series":"PBS","Shift":322,"Intensity":60},{"Series":"PBS","Shift":330,"Intensity":40},{"Series":"PBS","Shift":337,"Intensity":50},{"Series":"PBS","Shift":342,"Intensity":70},{"Series":"PBS","Shift":350,"Intensity":55},{"Series":"PBS","Shift":355,"Intensity":60},{"Series":"PBS","Shift":359,"Intensity":80},{"Series":"PBS","Shift":365,"Intensity":40},{"Series":"PBS","Shift":372,"Intensity":30},{"Series":"PBS","Shift":381,"Intensity":20},{"Series":"PBS","Shift":390,"Intensity":30},{"Series":"PBS","Shift":400,"Intensity":15},{"Series":"PBS","Shift":409,"Intensity":35},{"Series":"PBS","Shift":420,"Intensity":20},{"Series":"PBS","Shift":430,"Intensity":25},{"Series":"PBS","Shift":447,"Intensity":15},{"Series":"PBS","Shift":460,"Intensity":10},{"Series":"PBS","Shift":475,"Intensity":15},{"Series":"PBS","Shift":490,"Intensity":5},{"Series":"PBS","Shift":510,"Intensity":10},{"Series":"PBS","Shift":524,"Intensity":0},{"Series":"PBS","Shift":560,"Intensity":5},{"Series":"PBS","Shift":601,"Intensity":0},{"Series":"PBS","Shift":623,"Intensity":15},{"Series":"PBS","Shift":635,"Intensity":20},{"Series":"PBS","Shift":651,"Intensity":35},{"Series":"PBS","Shift":660,"Intensity":40},{"Series":"PBS","Shift":667,"Intensity":45},{"Series":"PBS","Shift":680,"Intensity":55},{"Series":"PBS","Shift":694,"Intensity":72},{"Series":"PBS","Shift":705,"Intensity":85},{"Series":"PBS","Shift":715,"Intensity":95},{"Series":"PBS","Shift":722,"Intensity":110},{"Series":"PBS","Shift":735,"Intensity":120},{"Series":"PBS","Shift":750,"Intensity":145},{"Series":"PBS","Shift":760,"Intensity":150},{"Series":"PBS","Shift":770,"Intensity":170},{"Series":"PBS","Shift":777,"Intensity":180},{"Series":"PBS","Shift":785,"Intensity":175},{"Series":"PBS","Shift":793,"Intensity":195},{"Series":"PBS","Shift":800,"Intensity":190},{"Series":"PBS","Shift":805,"Intensity":200},{"Series":"PBS","Shift":812,"Intensity":205},{"Series":"PBS","Shift":816,"Intensity":218},{"Series":"PBS","Shift":822,"Intensity":200},{"Series":"PBS","Shift":828,"Intensity":210},{"Series":"PBS","Shift":832,"Intensity":185},{"Series":"PBS","Shift":840,"Intensity":160},{"Series":"PBS","Shift":848,"Intensity":140},{"Series":"PBS","Shift":854,"Intensity":110},{"Series":"PBS","Shift":862,"Intensity":95},{"Series":"PBS","Shift":870,"Intensity":70},{"Series":"PBS","Shift":876,"Intensity":50},{"Series":"PBS","Shift":885,"Intensity":40},{"Series":"PBS","Shift":898,"Intensity":35},{"Series":"PBS","Shift":910,"Intensity":25},{"Series":"PBS","Shift":920,"Intensity":30},{"Series":"PBS","Shift":931,"Intensity":15},{"Series":"PBS","Shift":940,"Intensity":20},{"Series":"PBS","Shift":945,"Intensity":10}
    ]},
    "encoding": {
      "x": {"field": "Shift", "type": "quantitative", "scale": {"domain": [195, 945], "nice": false, "zero": false},
            "axis": {"values": [225,300,375,450,525,600,675,750,825,900], "format": "d", "labelExpr": "datum.value % 150 === 0 ? datum.label : ''", "title": null, "tickSize": 4, "labelPadding": 4, "labelFontSize": 13, "domainColor": "#000", "tickColor": "#000"}},
      "y": {"field": "Intensity", "type": "quantitative", "scale": {"domain": [0, 1000], "nice": false},
            "axis": {"values": [0, 500, 1000], "format": "d", "labelExpr": "datum.value === 0 || datum.value === 1000 ? datum.label : ''", "title": null, "tickSize": 5, "labelPadding": 2, "labelFontSize": 13, "domainColor": "#000", "tickColor": "#000"}}
    },
    "layer": [
      {"mark": {"type": "line", "strokeWidth": 1.2, "clip": true},
       "encoding": {"color": {"field": "Series", "type": "nominal", "scale": {"domain": ["PBS"], "range": ["#000000"]},
          "legend": {"orient": "none", "legendX": 400, "legendY": 3, "title": null, "strokeColor": "#999", "fillColor": "#fff", "padding": 1, "symbolType": "M-2,0L2,0", "symbolSize": 156, "symbolStrokeWidth": 1.5, "symbolOffset": 6, "labelOffset": 7, "labelFontSize": 12, "labelColor": "#111"}}}}
    ]
  },
  {
    "width": 455, "height": 46,
    "data": {"values": [
      {"Series":"GreenBone","Shift":195,"Intensity":40},{"Series":"GreenBone","Shift":199,"Intensity":60},{"Series":"GreenBone","Shift":211,"Intensity":60},{"Series":"GreenBone","Shift":220,"Intensity":20},{"Series":"GreenBone","Shift":227,"Intensity":0},{"Series":"GreenBone","Shift":236,"Intensity":50},{"Series":"GreenBone","Shift":244,"Intensity":90},{"Series":"GreenBone","Shift":252,"Intensity":100},{"Series":"GreenBone","Shift":260,"Intensity":120},{"Series":"GreenBone","Shift":268,"Intensity":180},{"Series":"GreenBone","Shift":274,"Intensity":230},{"Series":"GreenBone","Shift":280,"Intensity":290},{"Series":"GreenBone","Shift":285,"Intensity":260},{"Series":"GreenBone","Shift":288,"Intensity":230},{"Series":"GreenBone","Shift":294,"Intensity":150},{"Series":"GreenBone","Shift":300,"Intensity":90},{"Series":"GreenBone","Shift":307,"Intensity":60},{"Series":"GreenBone","Shift":315,"Intensity":30},{"Series":"GreenBone","Shift":325,"Intensity":40},{"Series":"GreenBone","Shift":337,"Intensity":30},{"Series":"GreenBone","Shift":350,"Intensity":10},{"Series":"GreenBone","Shift":376,"Intensity":0},{"Series":"GreenBone","Shift":384,"Intensity":150},{"Series":"GreenBone","Shift":388,"Intensity":300},{"Series":"GreenBone","Shift":392,"Intensity":440},{"Series":"GreenBone","Shift":397,"Intensity":700},{"Series":"GreenBone","Shift":401,"Intensity":880},{"Series":"GreenBone","Shift":406,"Intensity":1080},{"Series":"GreenBone","Shift":410,"Intensity":1000},{"Series":"GreenBone","Shift":414,"Intensity":960},{"Series":"GreenBone","Shift":418,"Intensity":1050},{"Series":"GreenBone","Shift":422,"Intensity":1170},{"Series":"GreenBone","Shift":426,"Intensity":1450},{"Series":"GreenBone","Shift":430,"Intensity":1750},{"Series":"GreenBone","Shift":433,"Intensity":1460},{"Series":"GreenBone","Shift":437,"Intensity":1300},{"Series":"GreenBone","Shift":442,"Intensity":1170},{"Series":"GreenBone","Shift":446,"Intensity":1120},{"Series":"GreenBone","Shift":450,"Intensity":1080},{"Series":"GreenBone","Shift":454,"Intensity":980},{"Series":"GreenBone","Shift":458,"Intensity":880},{"Series":"GreenBone","Shift":463,"Intensity":700},{"Series":"GreenBone","Shift":469,"Intensity":500},{"Series":"GreenBone","Shift":475,"Intensity":380},{"Series":"GreenBone","Shift":480,"Intensity":290},{"Series":"GreenBone","Shift":486,"Intensity":250},{"Series":"GreenBone","Shift":491,"Intensity":200},{"Series":"GreenBone","Shift":497,"Intensity":150},{"Series":"GreenBone","Shift":502,"Intensity":90},{"Series":"GreenBone","Shift":508,"Intensity":40},{"Series":"GreenBone","Shift":513,"Intensity":0},{"Series":"GreenBone","Shift":520,"Intensity":60},{"Series":"GreenBone","Shift":527,"Intensity":150},{"Series":"GreenBone","Shift":533,"Intensity":180},{"Series":"GreenBone","Shift":540,"Intensity":230},{"Series":"GreenBone","Shift":546,"Intensity":190},{"Series":"GreenBone","Shift":551,"Intensity":200},{"Series":"GreenBone","Shift":557,"Intensity":260},{"Series":"GreenBone","Shift":562,"Intensity":290},{"Series":"GreenBone","Shift":566,"Intensity":340},{"Series":"GreenBone","Shift":570,"Intensity":440},{"Series":"GreenBone","Shift":575,"Intensity":700},{"Series":"GreenBone","Shift":579,"Intensity":880},{"Series":"GreenBone","Shift":582,"Intensity":780},{"Series":"GreenBone","Shift":585,"Intensity":730},{"Series":"GreenBone","Shift":589,"Intensity":900},{"Series":"GreenBone","Shift":593,"Intensity":1100},{"Series":"GreenBone","Shift":596,"Intensity":950},{"Series":"GreenBone","Shift":599,"Intensity":580},{"Series":"GreenBone","Shift":603,"Intensity":520},{"Series":"GreenBone","Shift":607,"Intensity":640},{"Series":"GreenBone","Shift":610,"Intensity":560},{"Series":"GreenBone","Shift":613,"Intensity":440},{"Series":"GreenBone","Shift":617,"Intensity":400},{"Series":"GreenBone","Shift":621,"Intensity":380},{"Series":"GreenBone","Shift":626,"Intensity":300},{"Series":"GreenBone","Shift":631,"Intensity":200},{"Series":"GreenBone","Shift":636,"Intensity":150},{"Series":"GreenBone","Shift":640,"Intensity":0},{"Series":"GreenBone","Shift":700,"Intensity":0},{"Series":"GreenBone","Shift":760,"Intensity":20},{"Series":"GreenBone","Shift":800,"Intensity":20},{"Series":"GreenBone","Shift":840,"Intensity":40},{"Series":"GreenBone","Shift":860,"Intensity":60},{"Series":"GreenBone","Shift":875,"Intensity":100},{"Series":"GreenBone","Shift":887,"Intensity":150},{"Series":"GreenBone","Shift":895,"Intensity":120},{"Series":"GreenBone","Shift":903,"Intensity":170},{"Series":"GreenBone","Shift":909,"Intensity":150},{"Series":"GreenBone","Shift":917,"Intensity":130},{"Series":"GreenBone","Shift":926,"Intensity":200},{"Series":"GreenBone","Shift":931,"Intensity":130},{"Series":"GreenBone","Shift":934,"Intensity":90},{"Series":"GreenBone","Shift":938,"Intensity":250},{"Series":"GreenBone","Shift":942,"Intensity":580},{"Series":"GreenBone","Shift":945,"Intensity":700}
    ]},
    "encoding": {
      "x": {"field": "Shift", "type": "quantitative", "scale": {"domain": [195, 945], "nice": false, "zero": false},
            "axis": {"values": [225,300,375,450,525,600,675,750,825,900], "format": "d", "labelExpr": "datum.value % 150 === 0 ? datum.label : ''", "title": "Raman Shift (cm-1)", "titleFontSize": 16, "titlePadding": 13, "titleX": 219.5, "tickSize": 4, "labelPadding": 4, "labelFontSize": 13, "domainColor": "#000", "tickColor": "#000"}},
      "y": {"field": "Intensity", "type": "quantitative", "scale": {"domain": [0, 4000], "nice": false},
            "axis": {"values": [0, 2000, 4000], "format": "d", "labelExpr": "datum.value === 0 || datum.value === 4000 ? datum.label : ''", "title": null, "tickSize": 5, "labelPadding": 2, "labelFontSize": 13, "domainColor": "#000", "tickColor": "#000"}}
    },
    "layer": [
      {"mark": {"type": "line", "strokeWidth": 1.2, "clip": true},
       "encoding": {"color": {"field": "Series", "type": "nominal", "scale": {"domain": ["GreenBone"], "range": ["#000000"]},
          "legend": {"orient": "none", "legendX": 360, "legendY": 5, "title": null, "strokeColor": "#999", "fillColor": "#fff", "padding": 2, "symbolType": "M-2,0L2,0", "symbolSize": 182, "symbolStrokeWidth": 1.5, "symbolOffset": 6.5, "labelOffset": 8, "labelFontSize": 12, "labelColor": "#111"}}}},
      {"data": {"values": [
         {"Label": "272", "Shift": 275, "Intensity": 1157},
         {"Label": "429", "Shift": 409, "Intensity": 2235},
         {"Label": "448", "Shift": 467, "Intensity": 1590},
         {"Label": "578", "Shift": 558, "Intensity": 1300},
         {"Label": "594", "Shift": 584, "Intensity": 2110},
         {"Label": "610", "Shift": 624, "Intensity": 1240}
       ]},
       "mark": {"type": "text", "align": "center", "baseline": "middle", "fontSize": 10, "color": "#111"},
       "encoding": {"text": {"field": "Label"}}}
    ]
  }
  ]
}
]
}
